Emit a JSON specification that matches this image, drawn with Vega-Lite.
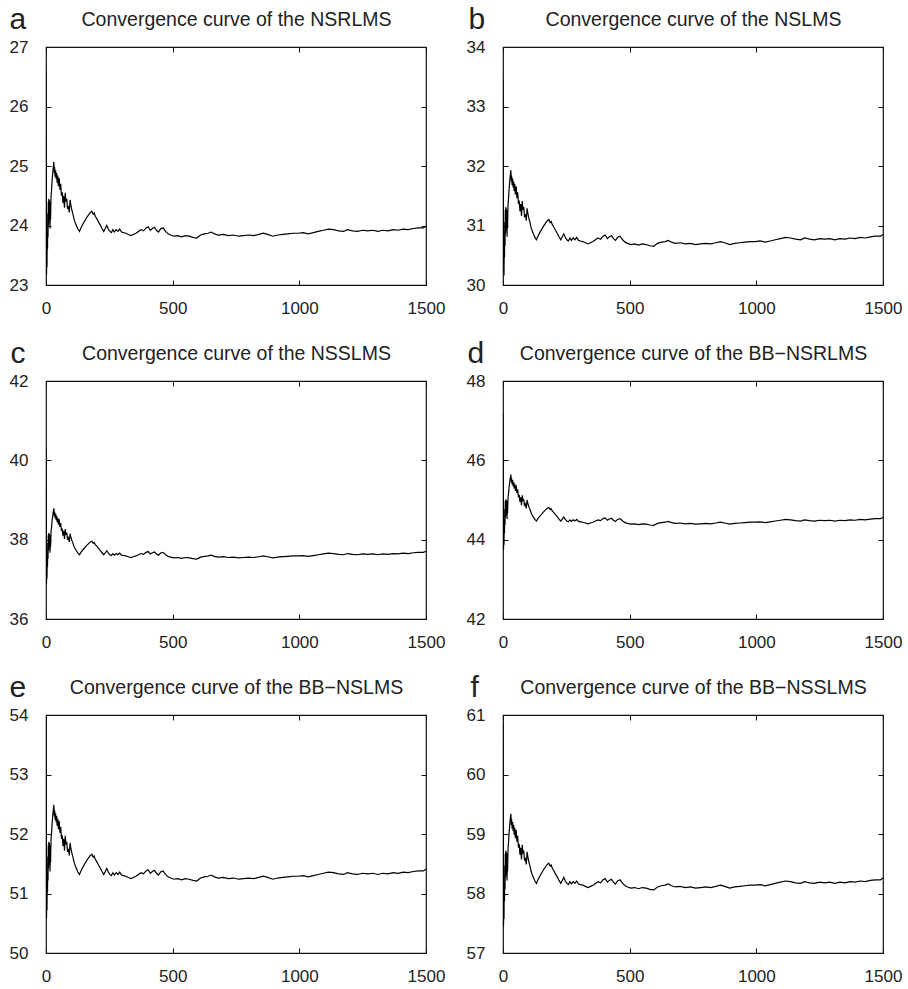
{
"$schema":"https://vega.github.io/schema/vega-lite/v6.json",
"background":"white",
"padding":{"left":8,"top":3,"right":5,"bottom":5},
"datasets":{"curve":[
{"x":0,"a":26.6,"b":33.46,"c":40.32,"d":47.17,"e":54,"f":60.87},
{"x":1,"a":25.2,"b":32.06,"c":38.92,"d":45.77,"e":52.62,"f":59.47},
{"x":2,"a":23.17,"b":30.4,"c":36.89,"d":43.74,"e":50.59,"f":57.44},
{"x":3,"a":23.5,"b":30.36,"c":37.22,"d":44.07,"e":50.92,"f":57.77},
{"x":4,"a":23.3,"b":30.16,"c":37.02,"d":43.87,"e":50.72,"f":57.57},
{"x":5,"a":23.9,"b":30.76,"c":37.62,"d":44.47,"e":51.32,"f":58.17},
{"x":6,"a":23.6,"b":30.46,"c":37.32,"d":44.17,"e":51.02,"f":57.87},
{"x":7,"a":24.2,"b":31.06,"c":37.92,"d":44.77,"e":51.62,"f":58.47},
{"x":8,"a":23.8,"b":30.66,"c":37.52,"d":44.37,"e":51.22,"f":58.07},
{"x":9,"a":24.4,"b":31.26,"c":38.12,"d":44.97,"e":51.82,"f":58.67},
{"x":10,"a":24.0,"b":30.86,"c":37.72,"d":44.57,"e":51.42,"f":58.27},
{"x":11,"a":24.45,"b":31.31,"c":38.17,"d":45.02,"e":51.87,"f":58.72},
{"x":12,"a":24.2,"b":31.06,"c":37.92,"d":44.77,"e":51.62,"f":58.47},
{"x":13,"a":24.43,"b":31.29,"c":38.15,"d":45.0,"e":51.85,"f":58.7},
{"x":14,"a":24.05,"b":30.91,"c":37.77,"d":44.62,"e":51.47,"f":58.32},
{"x":15,"a":24.4,"b":31.26,"c":38.12,"d":44.97,"e":51.82,"f":58.67},
{"x":16,"a":23.95,"b":30.81,"c":37.67,"d":44.52,"e":51.37,"f":58.22},
{"x":17,"a":24.3,"b":31.16,"c":38.02,"d":44.87,"e":51.72,"f":58.57},
{"x":18,"a":24.1,"b":30.96,"c":37.82,"d":44.67,"e":51.52,"f":58.37},
{"x":20,"a":24.5,"b":31.36,"c":38.22,"d":45.07,"e":51.92,"f":58.77},
{"x":22,"a":24.6,"b":31.46,"c":38.32,"d":45.17,"e":52.02,"f":58.87},
{"x":24,"a":24.75,"b":31.61,"c":38.47,"d":45.32,"e":52.17,"f":59.02},
{"x":26,"a":24.85,"b":31.71,"c":38.57,"d":45.42,"e":52.27,"f":59.12},
{"x":28,"a":24.95,"b":31.81,"c":38.67,"d":45.52,"e":52.37,"f":59.22},
{"x":31,"a":25.07,"b":31.93,"c":38.79,"d":45.64,"e":52.49,"f":59.34},
{"x":33,"a":24.88,"b":31.74,"c":38.6,"d":45.45,"e":52.3,"f":59.15},
{"x":34,"a":24.98,"b":31.84,"c":38.7,"d":45.55,"e":52.4,"f":59.25},
{"x":36,"a":24.82,"b":31.68,"c":38.54,"d":45.39,"e":52.24,"f":59.09},
{"x":38,"a":24.93,"b":31.79,"c":38.65,"d":45.5,"e":52.35,"f":59.2},
{"x":40,"a":24.78,"b":31.64,"c":38.5,"d":45.35,"e":52.2,"f":59.05},
{"x":42,"a":24.88,"b":31.74,"c":38.6,"d":45.45,"e":52.3,"f":59.15},
{"x":44,"a":24.72,"b":31.58,"c":38.44,"d":45.29,"e":52.14,"f":58.99},
{"x":46,"a":24.84,"b":31.7,"c":38.56,"d":45.41,"e":52.26,"f":59.11},
{"x":49,"a":24.66,"b":31.52,"c":38.38,"d":45.23,"e":52.08,"f":58.93},
{"x":52,"a":24.8,"b":31.66,"c":38.52,"d":45.37,"e":52.22,"f":59.07},
{"x":55,"a":24.6,"b":31.46,"c":38.32,"d":45.17,"e":52.02,"f":58.87},
{"x":58,"a":24.7,"b":31.56,"c":38.42,"d":45.27,"e":52.12,"f":58.97},
{"x":61,"a":24.5,"b":31.36,"c":38.22,"d":45.07,"e":51.92,"f":58.77},
{"x":64,"a":24.56,"b":31.42,"c":38.28,"d":45.13,"e":51.98,"f":58.83},
{"x":67,"a":24.38,"b":31.24,"c":38.1,"d":44.95,"e":51.8,"f":58.65},
{"x":70,"a":24.5,"b":31.36,"c":38.22,"d":45.07,"e":51.92,"f":58.77},
{"x":73,"a":24.3,"b":31.16,"c":38.02,"d":44.87,"e":51.72,"f":58.57},
{"x":76,"a":24.55,"b":31.41,"c":38.27,"d":45.12,"e":51.97,"f":58.82},
{"x":79,"a":24.4,"b":31.26,"c":38.12,"d":44.97,"e":51.82,"f":58.67},
{"x":82,"a":24.45,"b":31.31,"c":38.17,"d":45.02,"e":51.87,"f":58.72},
{"x":85,"a":24.28,"b":31.14,"c":38.0,"d":44.85,"e":51.7,"f":58.55},
{"x":88,"a":24.33,"b":31.19,"c":38.05,"d":44.9,"e":51.75,"f":58.6},
{"x":92,"a":24.22,"b":31.08,"c":37.94,"d":44.79,"e":51.64,"f":58.49},
{"x":95,"a":24.43,"b":31.29,"c":38.15,"d":45.0,"e":51.85,"f":58.7},
{"x":98,"a":24.35,"b":31.21,"c":38.07,"d":44.92,"e":51.77,"f":58.62},
{"x":102,"a":24.26,"b":31.12,"c":37.98,"d":44.83,"e":51.68,"f":58.53},
{"x":106,"a":24.2,"b":31.06,"c":37.92,"d":44.77,"e":51.62,"f":58.47},
{"x":110,"a":24.12,"b":30.98,"c":37.84,"d":44.69,"e":51.54,"f":58.39},
{"x":115,"a":24.05,"b":30.91,"c":37.77,"d":44.62,"e":51.47,"f":58.32},
{"x":120,"a":24.0,"b":30.86,"c":37.72,"d":44.57,"e":51.42,"f":58.27},
{"x":126,"a":23.94,"b":30.8,"c":37.66,"d":44.51,"e":51.36,"f":58.21},
{"x":132,"a":23.9,"b":30.76,"c":37.62,"d":44.47,"e":51.32,"f":58.17},
{"x":138,"a":23.96,"b":30.82,"c":37.68,"d":44.53,"e":51.38,"f":58.23},
{"x":145,"a":24.02,"b":30.88,"c":37.74,"d":44.59,"e":51.44,"f":58.29},
{"x":152,"a":24.07,"b":30.93,"c":37.79,"d":44.64,"e":51.49,"f":58.34},
{"x":160,"a":24.13,"b":30.99,"c":37.85,"d":44.7,"e":51.55,"f":58.4},
{"x":168,"a":24.18,"b":31.04,"c":37.9,"d":44.75,"e":51.6,"f":58.45},
{"x":175,"a":24.22,"b":31.08,"c":37.94,"d":44.79,"e":51.64,"f":58.49},
{"x":181,"a":24.24,"b":31.1,"c":37.96,"d":44.81,"e":51.66,"f":58.51},
{"x":186,"a":24.19,"b":31.05,"c":37.91,"d":44.76,"e":51.61,"f":58.46},
{"x":190,"a":24.21,"b":31.07,"c":37.93,"d":44.78,"e":51.63,"f":58.48},
{"x":195,"a":24.15,"b":31.01,"c":37.87,"d":44.72,"e":51.57,"f":58.42},
{"x":200,"a":24.12,"b":30.98,"c":37.84,"d":44.69,"e":51.54,"f":58.39},
{"x":207,"a":24.06,"b":30.92,"c":37.78,"d":44.63,"e":51.48,"f":58.33},
{"x":214,"a":24.01,"b":30.87,"c":37.73,"d":44.58,"e":51.43,"f":58.28},
{"x":221,"a":23.95,"b":30.81,"c":37.67,"d":44.52,"e":51.37,"f":58.22},
{"x":228,"a":23.9,"b":30.76,"c":37.62,"d":44.47,"e":51.32,"f":58.17},
{"x":234,"a":23.95,"b":30.81,"c":37.67,"d":44.52,"e":51.37,"f":58.22},
{"x":240,"a":24.0,"b":30.86,"c":37.72,"d":44.57,"e":51.42,"f":58.27},
{"x":246,"a":23.94,"b":30.8,"c":37.66,"d":44.51,"e":51.36,"f":58.21},
{"x":252,"a":23.9,"b":30.76,"c":37.62,"d":44.47,"e":51.32,"f":58.17},
{"x":258,"a":23.88,"b":30.74,"c":37.6,"d":44.45,"e":51.3,"f":58.15},
{"x":264,"a":23.93,"b":30.79,"c":37.65,"d":44.5,"e":51.35,"f":58.2},
{"x":270,"a":23.89,"b":30.75,"c":37.61,"d":44.46,"e":51.31,"f":58.16},
{"x":277,"a":23.93,"b":30.79,"c":37.65,"d":44.5,"e":51.35,"f":58.2},
{"x":284,"a":23.9,"b":30.76,"c":37.62,"d":44.47,"e":51.32,"f":58.17},
{"x":291,"a":23.94,"b":30.8,"c":37.66,"d":44.51,"e":51.36,"f":58.21},
{"x":298,"a":23.89,"b":30.75,"c":37.61,"d":44.46,"e":51.31,"f":58.16},
{"x":306,"a":23.88,"b":30.74,"c":37.6,"d":44.45,"e":51.3,"f":58.15},
{"x":315,"a":23.87,"b":30.73,"c":37.59,"d":44.44,"e":51.29,"f":58.14},
{"x":325,"a":23.85,"b":30.71,"c":37.57,"d":44.42,"e":51.27,"f":58.12},
{"x":335,"a":23.83,"b":30.69,"c":37.55,"d":44.4,"e":51.25,"f":58.1},
{"x":345,"a":23.85,"b":30.71,"c":37.57,"d":44.42,"e":51.27,"f":58.12},
{"x":355,"a":23.87,"b":30.73,"c":37.59,"d":44.44,"e":51.29,"f":58.14},
{"x":365,"a":23.9,"b":30.76,"c":37.62,"d":44.47,"e":51.32,"f":58.17},
{"x":375,"a":23.93,"b":30.79,"c":37.65,"d":44.5,"e":51.35,"f":58.2},
{"x":385,"a":23.91,"b":30.77,"c":37.63,"d":44.48,"e":51.33,"f":58.18},
{"x":395,"a":23.96,"b":30.82,"c":37.68,"d":44.53,"e":51.38,"f":58.23},
{"x":403,"a":23.98,"b":30.84,"c":37.7,"d":44.55,"e":51.4,"f":58.25},
{"x":412,"a":23.92,"b":30.78,"c":37.64,"d":44.49,"e":51.34,"f":58.19},
{"x":420,"a":23.95,"b":30.81,"c":37.67,"d":44.52,"e":51.37,"f":58.22},
{"x":428,"a":23.97,"b":30.83,"c":37.69,"d":44.54,"e":51.39,"f":58.24},
{"x":436,"a":23.92,"b":30.78,"c":37.64,"d":44.49,"e":51.34,"f":58.19},
{"x":444,"a":23.89,"b":30.75,"c":37.61,"d":44.46,"e":51.31,"f":58.16},
{"x":452,"a":23.94,"b":30.8,"c":37.66,"d":44.51,"e":51.36,"f":58.21},
{"x":462,"a":23.96,"b":30.82,"c":37.68,"d":44.53,"e":51.38,"f":58.23},
{"x":472,"a":23.9,"b":30.76,"c":37.62,"d":44.47,"e":51.32,"f":58.17},
{"x":482,"a":23.86,"b":30.72,"c":37.58,"d":44.43,"e":51.28,"f":58.13},
{"x":492,"a":23.84,"b":30.7,"c":37.56,"d":44.41,"e":51.26,"f":58.11},
{"x":505,"a":23.82,"b":30.68,"c":37.54,"d":44.39,"e":51.24,"f":58.09},
{"x":520,"a":23.83,"b":30.69,"c":37.55,"d":44.4,"e":51.25,"f":58.1},
{"x":535,"a":23.81,"b":30.67,"c":37.53,"d":44.38,"e":51.23,"f":58.08},
{"x":550,"a":23.83,"b":30.69,"c":37.55,"d":44.4,"e":51.25,"f":58.1},
{"x":565,"a":23.82,"b":30.68,"c":37.54,"d":44.39,"e":51.24,"f":58.09},
{"x":580,"a":23.8,"b":30.66,"c":37.52,"d":44.37,"e":51.22,"f":58.07},
{"x":595,"a":23.79,"b":30.65,"c":37.51,"d":44.36,"e":51.21,"f":58.06},
{"x":610,"a":23.84,"b":30.7,"c":37.56,"d":44.41,"e":51.26,"f":58.11},
{"x":625,"a":23.86,"b":30.72,"c":37.58,"d":44.43,"e":51.28,"f":58.13},
{"x":640,"a":23.87,"b":30.73,"c":37.59,"d":44.44,"e":51.29,"f":58.14},
{"x":652,"a":23.89,"b":30.75,"c":37.61,"d":44.46,"e":51.31,"f":58.16},
{"x":665,"a":23.86,"b":30.72,"c":37.58,"d":44.43,"e":51.28,"f":58.13},
{"x":680,"a":23.84,"b":30.7,"c":37.56,"d":44.41,"e":51.26,"f":58.11},
{"x":700,"a":23.85,"b":30.71,"c":37.57,"d":44.42,"e":51.27,"f":58.12},
{"x":720,"a":23.83,"b":30.69,"c":37.55,"d":44.4,"e":51.25,"f":58.1},
{"x":740,"a":23.84,"b":30.7,"c":37.56,"d":44.41,"e":51.26,"f":58.11},
{"x":760,"a":23.82,"b":30.68,"c":37.54,"d":44.39,"e":51.24,"f":58.09},
{"x":780,"a":23.83,"b":30.69,"c":37.55,"d":44.4,"e":51.25,"f":58.1},
{"x":800,"a":23.84,"b":30.7,"c":37.56,"d":44.41,"e":51.26,"f":58.11},
{"x":820,"a":23.83,"b":30.69,"c":37.55,"d":44.4,"e":51.25,"f":58.1},
{"x":840,"a":23.85,"b":30.71,"c":37.57,"d":44.42,"e":51.27,"f":58.12},
{"x":858,"a":23.87,"b":30.73,"c":37.59,"d":44.44,"e":51.29,"f":58.14},
{"x":875,"a":23.85,"b":30.71,"c":37.57,"d":44.42,"e":51.27,"f":58.12},
{"x":895,"a":23.82,"b":30.68,"c":37.54,"d":44.39,"e":51.24,"f":58.09},
{"x":915,"a":23.84,"b":30.7,"c":37.56,"d":44.41,"e":51.26,"f":58.11},
{"x":935,"a":23.85,"b":30.71,"c":37.57,"d":44.42,"e":51.27,"f":58.12},
{"x":955,"a":23.86,"b":30.72,"c":37.58,"d":44.43,"e":51.28,"f":58.13},
{"x":975,"a":23.87,"b":30.73,"c":37.59,"d":44.44,"e":51.29,"f":58.14},
{"x":995,"a":23.87,"b":30.73,"c":37.59,"d":44.44,"e":51.29,"f":58.14},
{"x":1015,"a":23.88,"b":30.74,"c":37.6,"d":44.45,"e":51.3,"f":58.15},
{"x":1035,"a":23.86,"b":30.72,"c":37.58,"d":44.43,"e":51.28,"f":58.13},
{"x":1055,"a":23.88,"b":30.74,"c":37.6,"d":44.45,"e":51.3,"f":58.15},
{"x":1075,"a":23.9,"b":30.76,"c":37.62,"d":44.47,"e":51.32,"f":58.17},
{"x":1095,"a":23.92,"b":30.78,"c":37.64,"d":44.49,"e":51.34,"f":58.19},
{"x":1115,"a":23.94,"b":30.8,"c":37.66,"d":44.51,"e":51.36,"f":58.21},
{"x":1135,"a":23.93,"b":30.79,"c":37.65,"d":44.5,"e":51.35,"f":58.2},
{"x":1155,"a":23.91,"b":30.77,"c":37.63,"d":44.48,"e":51.33,"f":58.18},
{"x":1175,"a":23.9,"b":30.76,"c":37.62,"d":44.47,"e":51.32,"f":58.17},
{"x":1190,"a":23.93,"b":30.79,"c":37.65,"d":44.5,"e":51.35,"f":58.2},
{"x":1210,"a":23.91,"b":30.77,"c":37.63,"d":44.48,"e":51.33,"f":58.18},
{"x":1230,"a":23.9,"b":30.76,"c":37.62,"d":44.47,"e":51.32,"f":58.17},
{"x":1250,"a":23.92,"b":30.78,"c":37.64,"d":44.49,"e":51.34,"f":58.19},
{"x":1270,"a":23.91,"b":30.77,"c":37.63,"d":44.48,"e":51.33,"f":58.18},
{"x":1290,"a":23.92,"b":30.78,"c":37.64,"d":44.49,"e":51.34,"f":58.19},
{"x":1310,"a":23.9,"b":30.76,"c":37.62,"d":44.47,"e":51.32,"f":58.17},
{"x":1330,"a":23.92,"b":30.78,"c":37.64,"d":44.49,"e":51.34,"f":58.19},
{"x":1350,"a":23.91,"b":30.77,"c":37.63,"d":44.48,"e":51.33,"f":58.18},
{"x":1370,"a":23.93,"b":30.79,"c":37.65,"d":44.5,"e":51.35,"f":58.2},
{"x":1390,"a":23.92,"b":30.78,"c":37.64,"d":44.49,"e":51.34,"f":58.19},
{"x":1410,"a":23.94,"b":30.8,"c":37.66,"d":44.51,"e":51.36,"f":58.21},
{"x":1430,"a":23.93,"b":30.79,"c":37.65,"d":44.5,"e":51.35,"f":58.2},
{"x":1450,"a":23.95,"b":30.81,"c":37.67,"d":44.52,"e":51.37,"f":58.22},
{"x":1470,"a":23.96,"b":30.82,"c":37.68,"d":44.53,"e":51.38,"f":58.23},
{"x":1490,"a":23.96,"b":30.82,"c":37.68,"d":44.53,"e":51.38,"f":58.23},
{"x":1500,"a":23.99,"b":30.85,"c":37.71,"d":44.56,"e":51.41,"f":58.26}
]},
"data":{"name":"curve"},
"columns":2,
"bounds":"flush",
"spacing":{"row":96,"column":77},
"concat":[
{"width":380,"height":238,"layer":[
 {"mark":{"type":"line","color":"#000","strokeWidth":1.2,"clip":true},"encoding":{
  "x":{"field":"x","type":"quantitative","scale":{"domain":[0,1500],"nice":false},"axis":{"orient":"bottom","values":[0,500,1000,1500],"title":null}},
  "y":{"field":"a","type":"quantitative","scale":{"domain":[23,27],"nice":false,"zero":false},"axis":{"orient":"left","values":[23,24,25,26,27],"title":"a","titleAngle":0,"titleX":-37,"titleY":-19,"titleAlign":"left","titleBaseline":"alphabetic","titleFontSize":30}}}},
 {"mark":{"type":"line","strokeOpacity":0},"encoding":{
  "x":{"field":"x","type":"quantitative","axis":{"orient":"top","labels":false,"values":[0,500,1000,1500],"title":"Convergence curve of the NSRLMS","titleY":-22,"titleBaseline":"alphabetic"}},
  "y":{"field":"a","type":"quantitative","axis":{"orient":"right","labels":false,"values":[23,24,25,26,27],"title":null}}}}
],"resolve":{"axis":{"x":"independent","y":"independent"}}},
{"width":380,"height":238,"layer":[
 {"mark":{"type":"line","color":"#000","strokeWidth":1.2,"clip":true},"encoding":{
  "x":{"field":"x","type":"quantitative","scale":{"domain":[0,1500],"nice":false},"axis":{"orient":"bottom","values":[0,500,1000,1500],"title":null}},
  "y":{"field":"b","type":"quantitative","scale":{"domain":[30,34],"nice":false,"zero":false},"axis":{"orient":"left","values":[30,31,32,33,34],"title":"b","titleAngle":0,"titleX":-35,"titleY":-19,"titleAlign":"left","titleBaseline":"alphabetic","titleFontSize":30}}}},
 {"mark":{"type":"line","strokeOpacity":0},"encoding":{
  "x":{"field":"x","type":"quantitative","axis":{"orient":"top","labels":false,"values":[0,500,1000,1500],"title":"Convergence curve of the NSLMS","titleY":-22,"titleBaseline":"alphabetic"}},
  "y":{"field":"b","type":"quantitative","axis":{"orient":"right","labels":false,"values":[30,31,32,33,34],"title":null}}}}
],"resolve":{"axis":{"x":"independent","y":"independent"}}},
{"width":380,"height":238,"layer":[
 {"mark":{"type":"line","color":"#000","strokeWidth":1.2,"clip":true},"encoding":{
  "x":{"field":"x","type":"quantitative","scale":{"domain":[0,1500],"nice":false},"axis":{"orient":"bottom","values":[0,500,1000,1500],"title":null}},
  "y":{"field":"c","type":"quantitative","scale":{"domain":[36,42],"nice":false,"zero":false},"axis":{"orient":"left","values":[36,38,40,42],"title":"c","titleAngle":0,"titleX":-36,"titleY":-19,"titleAlign":"left","titleBaseline":"alphabetic","titleFontSize":30}}}},
 {"mark":{"type":"line","strokeOpacity":0},"encoding":{
  "x":{"field":"x","type":"quantitative","axis":{"orient":"top","labels":false,"values":[0,500,1000,1500],"title":"Convergence curve of the NSSLMS","titleY":-22,"titleBaseline":"alphabetic"}},
  "y":{"field":"c","type":"quantitative","axis":{"orient":"right","labels":false,"values":[36,38,40,42],"title":null}}}}
],"resolve":{"axis":{"x":"independent","y":"independent"}}},
{"width":380,"height":238,"layer":[
 {"mark":{"type":"line","color":"#000","strokeWidth":1.2,"clip":true},"encoding":{
  "x":{"field":"x","type":"quantitative","scale":{"domain":[0,1500],"nice":false},"axis":{"orient":"bottom","values":[0,500,1000,1500],"title":null}},
  "y":{"field":"d","type":"quantitative","scale":{"domain":[42,48],"nice":false,"zero":false},"axis":{"orient":"left","values":[42,44,46,48],"title":"d","titleAngle":0,"titleX":-36,"titleY":-19,"titleAlign":"left","titleBaseline":"alphabetic","titleFontSize":30}}}},
 {"mark":{"type":"line","strokeOpacity":0},"encoding":{
  "x":{"field":"x","type":"quantitative","axis":{"orient":"top","labels":false,"values":[0,500,1000,1500],"title":"Convergence curve of the BB−NSRLMS","titleY":-22,"titleBaseline":"alphabetic"}},
  "y":{"field":"d","type":"quantitative","axis":{"orient":"right","labels":false,"values":[42,44,46,48],"title":null}}}}
],"resolve":{"axis":{"x":"independent","y":"independent"}}},
{"width":380,"height":238,"layer":[
 {"mark":{"type":"line","color":"#000","strokeWidth":1.2,"clip":true},"encoding":{
  "x":{"field":"x","type":"quantitative","scale":{"domain":[0,1500],"nice":false},"axis":{"orient":"bottom","values":[0,500,1000,1500],"title":null}},
  "y":{"field":"e","type":"quantitative","scale":{"domain":[50,54],"nice":false,"zero":false},"axis":{"orient":"left","values":[50,51,52,53,54],"title":"e","titleAngle":0,"titleX":-37,"titleY":-19,"titleAlign":"left","titleBaseline":"alphabetic","titleFontSize":30}}}},
 {"mark":{"type":"line","strokeOpacity":0},"encoding":{
  "x":{"field":"x","type":"quantitative","axis":{"orient":"top","labels":false,"values":[0,500,1000,1500],"title":"Convergence curve of the BB−NSLMS","titleY":-22,"titleBaseline":"alphabetic"}},
  "y":{"field":"e","type":"quantitative","axis":{"orient":"right","labels":false,"values":[50,51,52,53,54],"title":null}}}}
],"resolve":{"axis":{"x":"independent","y":"independent"}}},
{"width":380,"height":238,"layer":[
 {"mark":{"type":"line","color":"#000","strokeWidth":1.2,"clip":true},"encoding":{
  "x":{"field":"x","type":"quantitative","scale":{"domain":[0,1500],"nice":false},"axis":{"orient":"bottom","values":[0,500,1000,1500],"title":null}},
  "y":{"field":"f","type":"quantitative","scale":{"domain":[57,61],"nice":false,"zero":false},"axis":{"orient":"left","values":[57,58,59,60,61],"title":"f","titleAngle":0,"titleX":-33,"titleY":-19,"titleAlign":"left","titleBaseline":"alphabetic","titleFontSize":30}}}},
 {"mark":{"type":"line","strokeOpacity":0},"encoding":{
  "x":{"field":"x","type":"quantitative","axis":{"orient":"top","labels":false,"values":[0,500,1000,1500],"title":"Convergence curve of the BB−NSSLMS","titleY":-22,"titleBaseline":"alphabetic"}},
  "y":{"field":"f","type":"quantitative","axis":{"orient":"right","labels":false,"values":[57,58,59,60,61],"title":null}}}}
],"resolve":{"axis":{"x":"independent","y":"independent"}}}
],
"config":{
 "view":{"stroke":"#111","strokeWidth":1.2},
 "font":"Liberation Sans",
 "axis":{"domain":false,"grid":false,"ticks":true,"tickSize":-5,"tickColor":"#111","tickWidth":1,"format":"d",
  "labelFont":"Liberation Sans","labelFontSize":17,"labelColor":"#222","labelFlush":false,"labelOverlap":false,
  "titleFont":"Liberation Sans","titleFontSize":19.5,"titleFontWeight":"normal","titleColor":"#222"},
 "axisLeft":{"labelPadding":23},
 "axisBottom":{"labelPadding":20}
}
}
